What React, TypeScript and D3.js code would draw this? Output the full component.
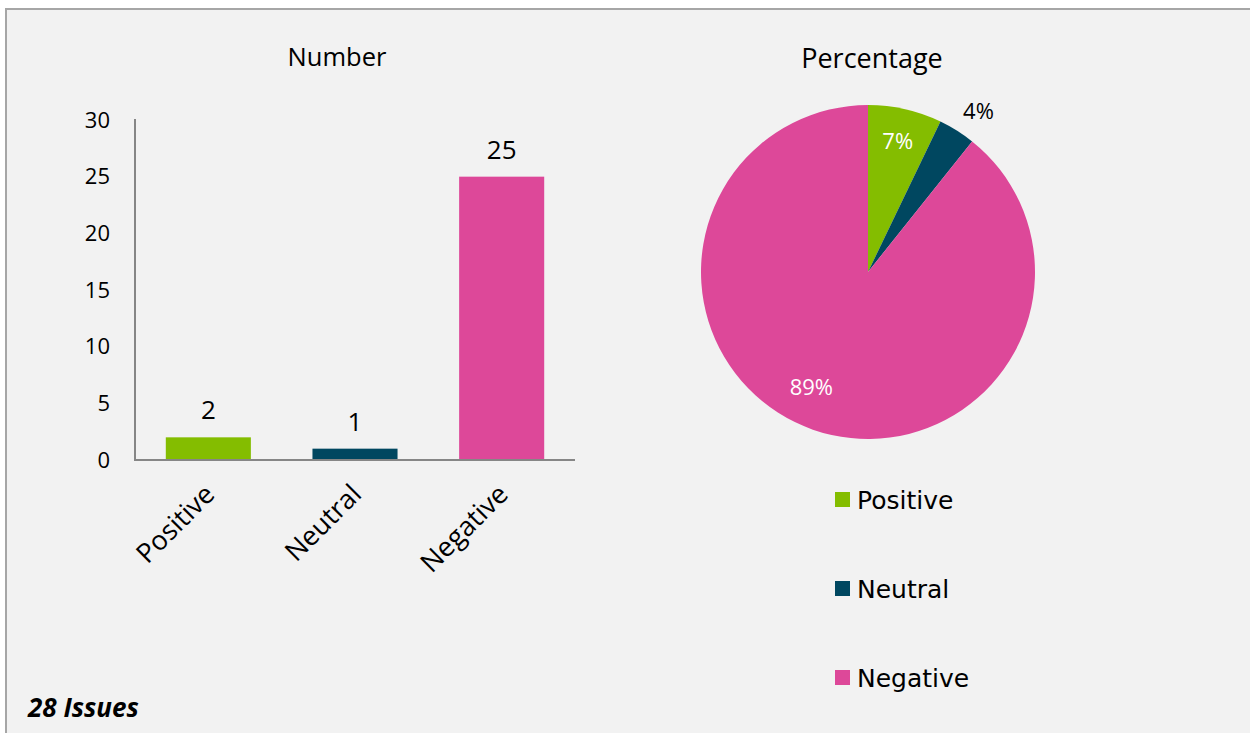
import * as d3 from "d3";
import React from "react";

const categories = ["Positive", "Neutral", "Negative"];
const counts = [2, 1, 25];
const colors = ["#84bd00", "#004760", "#dd4899"];
const yTicks = [0, 5, 10, 15, 20, 25, 30];
const pctLabels = ["7%", "4%", "89%"];
const totalLabel = "28 Issues";

const W = 1250;
const H = 733;
const font = "'Open Sans', sans-serif";

export default function App() {
  const bar = { left: 135, right: 575, top: 120, bottom: 460 };

  const x = d3
    .scaleBand<string>()
    .domain(categories)
    .range([bar.left, bar.right])
    .paddingInner(0.42)
    .paddingOuter(0.21);

  const y = d3.scaleLinear().domain([0, 30]).range([bar.bottom, bar.top]);

  const cx = 868;
  const cy = 272;
  const r = 167;
  const pie = d3.pie<number>().sort(null).value((d) => d);
  const arcs = pie(counts);
  const arc = d3.arc<d3.PieArcDatum<number>>().innerRadius(0).outerRadius(r);
  // label radius: inside for the big slices, outside for the thin one
  const labelR = [0.8 * r, 1.17 * r, 0.77 * r];

  const legendY = d3
    .scalePoint<string>()
    .domain(categories)
    .range([500, 678]);

  return (
    <>
      <style>{`body{margin:0;}`}</style>
      <svg
        width={W}
        height={H}
        viewBox={`0 0 ${W} ${H}`}
        style={{ display: "block", fontFamily: font }}
      >
        <rect x={0} y={0} width={W} height={H} fill="#ffffff" />
        <rect
          x={6}
          y={9}
          width={W + 20}
          height={H + 20}
          fill="#f2f2f2"
          stroke="#a6a6a6"
          strokeWidth={2}
        />

        {/* bar chart */}
        <text x={337} y={66} textAnchor="middle" fontSize={25.5} fill="#000">
          Number
        </text>
        {yTicks.map((t) => (
          <text
            key={t}
            x={110}
            y={y(t)}
            dy="0.35em"
            textAnchor="end"
            fontSize={22}
            fill="#000"
          >
            {t}
          </text>
        ))}
        {categories.map((c, i) => (
          <g key={c}>
            <rect
              x={x(c)}
              y={y(counts[i])}
              width={x.bandwidth()}
              height={y(0) - y(counts[i])}
              fill={colors[i]}
            />
            <text
              x={(x(c) ?? 0) + x.bandwidth() / 2}
              y={y(counts[i]) - 18}
              textAnchor="middle"
              fontSize={26}
              fill="#000"
            >
              {counts[i]}
            </text>
            <text
              transform={`translate(${(x(c) ?? 0) + x.bandwidth() / 2 + 8},${
                bar.bottom + 36
              }) rotate(-45)`}
              textAnchor="end"
              fontSize={27}
              fill="#000"
            >
              {c}
            </text>
          </g>
        ))}
        <line
          x1={bar.left}
          x2={bar.left}
          y1={bar.top - 1}
          y2={bar.bottom + 1}
          stroke="#868686"
          strokeWidth={2}
        />
        <line
          x1={bar.left}
          x2={bar.right}
          y1={bar.bottom}
          y2={bar.bottom}
          stroke="#868686"
          strokeWidth={2}
        />

        {/* pie chart */}
        <text x={872} y={68} textAnchor="middle" fontSize={27} fill="#000">
          Percentage
        </text>
        <g transform={`translate(${cx},${cy})`}>
          {arcs.map((a, i) => (
            <path key={i} d={arc(a) ?? ""} fill={colors[i]} />
          ))}
          {arcs.map((a, i) => {
            const mid =
              (a.startAngle + a.endAngle) / 2 + (i === 2 ? 0.12 : i === 1 ? 0.04 : 0);
            return (
              <text
                key={i}
                x={Math.sin(mid) * labelR[i]}
                y={-Math.cos(mid) * labelR[i]}
                dy="0.35em"
                textAnchor="middle"
                fontSize={22}
                fill={i === 1 ? "#000" : "#fff"}
              >
                {pctLabels[i]}
              </text>
            );
          })}
        </g>

        {/* legend */}
        {categories.map((c, i) => (
          <g key={c} transform={`translate(835,${legendY(c)})`}>
            <rect x={0} y={-8} width={15} height={15} fill={colors[i]} />
            <text
              x={22}
              y={0}
              dy="0.35em"
              fontSize={25}
              fontFamily="'DejaVu Sans', sans-serif"
              fill="#000"
            >
              {c}
            </text>
          </g>
        ))}

        <text
          x={28}
          y={717}
          fontSize={26}
          fontWeight="bold"
          fontStyle="italic"
          fill="#000"
        >
          {totalLabel}
        </text>
      </svg>
    </>
  );
}
